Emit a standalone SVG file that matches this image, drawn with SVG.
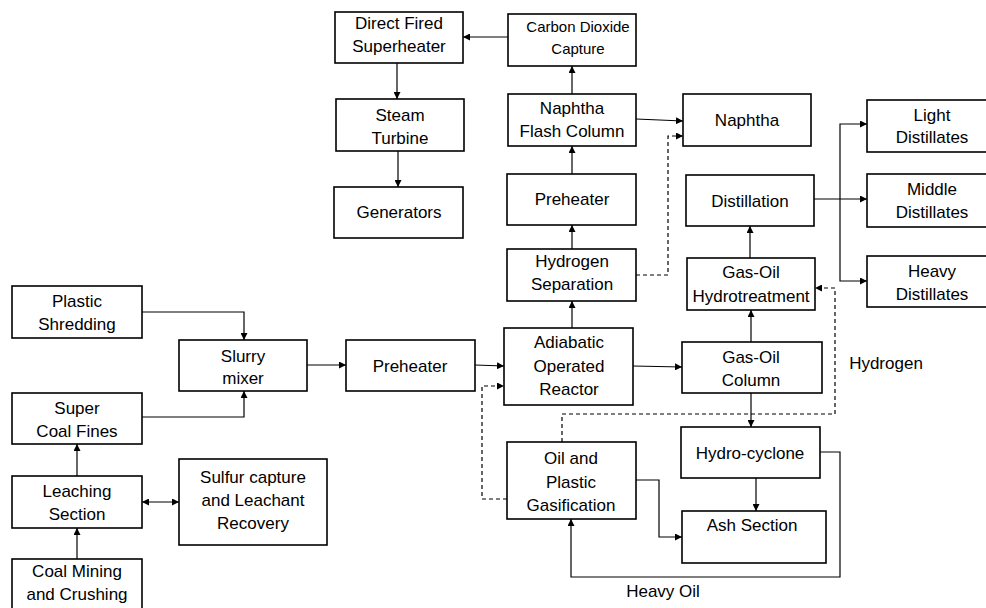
<svg xmlns="http://www.w3.org/2000/svg" width="986" height="608" viewBox="0 0 986 608">
<style>
.b{fill:#fff;stroke:#000;stroke-width:1.6}
.t{font-family:"Liberation Sans",Arial,sans-serif;font-size:17px;fill:#000;text-anchor:middle}
.s{font-size:15px}
.c{fill:none;stroke:#000;stroke-width:1.2}
.d{stroke-dasharray:4,3}
</style>
<defs>
<marker id="a" viewBox="0 0 8 8" refX="8" refY="4" markerWidth="7" markerHeight="7" markerUnits="userSpaceOnUse" orient="auto-start-reverse">
<path d="M0,0 L8,4 L0,8 z" fill="#000"/>
</marker>
</defs>
<rect width="986" height="608" fill="#fff"/>
<g id="connectors">
<path class="c" d="M508,37 H463" marker-end="url(#a)"/>
<path class="c" d="M397,63 V99" marker-end="url(#a)"/>
<path class="c" d="M398,151 V187" marker-end="url(#a)"/>
<path class="c" d="M572,94 V66" marker-end="url(#a)"/>
<path class="c" d="M636,119 L683,121" marker-end="url(#a)"/>
<path class="c d" d="M636,275 H668 V136 H683" marker-end="url(#a)"/>
<path class="c" d="M572,174 V146" marker-end="url(#a)"/>
<path class="c" d="M572,249 V225" marker-end="url(#a)"/>
<path class="c" d="M572,328 V301" marker-end="url(#a)"/>
<path class="c" d="M814,199 H867" marker-end="url(#a)"/>
<path class="c" d="M867,124 H840 V281 H867" marker-start="url(#a)" marker-end="url(#a)"/>
<path class="c" d="M750,258 V226" marker-end="url(#a)"/>
<path class="c" d="M751,342 V310" marker-end="url(#a)"/>
<path class="c" d="M751,393 V427" marker-end="url(#a)"/>
<path class="c d" d="M562,442 V414 H835 V288 H815" marker-end="url(#a)"/>
<path class="c d" d="M507,499 H482 V386 H504" marker-end="url(#a)"/>
<path class="c" d="M633,366 L682,367" marker-end="url(#a)"/>
<path class="c" d="M475,365 L504,366" marker-end="url(#a)"/>
<path class="c" d="M307,365 H346" marker-end="url(#a)"/>
<path class="c" d="M142,312 H244 V340" marker-end="url(#a)"/>
<path class="c" d="M142,417 H244 V391" marker-end="url(#a)"/>
<path class="c" d="M77,476 V444" marker-end="url(#a)"/>
<path class="c" d="M77,559 V528" marker-end="url(#a)"/>
<path class="c" d="M142,502 H179" marker-start="url(#a)" marker-end="url(#a)"/>
<path class="c" d="M636,480 H659 V537 H682" marker-end="url(#a)"/>
<path class="c" d="M756,478 V511" marker-end="url(#a)"/>
<path class="c" d="M820,452 H840 V577 H571 V519" marker-end="url(#a)"/>
</g>
<g id="superheater"><rect class="b" x="335" y="12" width="128" height="51"/><text class="t" x="399" y="29">Direct Fired</text><text class="t" x="399" y="52">Superheater</text></g>
<g id="co2"><rect class="b" x="508" y="14" width="128" height="52"/><text class="t s" x="578" y="32">Carbon Dioxide</text><text class="t s" x="578" y="54">Capture</text></g>
<g id="turbine"><rect class="b" x="336" y="99" width="128" height="52"/><text class="t" x="400" y="121">Steam</text><text class="t" x="400" y="144">Turbine</text></g>
<g id="generators"><rect class="b" x="334" y="187" width="129" height="51"/><text class="t" x="399" y="218">Generators</text></g>
<g id="naphthaflash"><rect class="b" x="508" y="94" width="128" height="52"/><text class="t" x="572" y="114">Naphtha</text><text class="t" x="572" y="137">Flash Column</text></g>
<g id="naphtha"><rect class="b" x="683" y="94" width="128" height="52"/><text class="t" x="747" y="126">Naphtha</text></g>
<g id="preheater2"><rect class="b" x="507" y="174" width="129" height="51"/><text class="t" x="572" y="205">Preheater</text></g>
<g id="h2sep"><rect class="b" x="507" y="249" width="129" height="52"/><text class="t" x="572" y="267">Hydrogen</text><text class="t" x="572" y="290">Separation</text></g>
<g id="distillation"><rect class="b" x="686" y="175" width="128" height="51"/><text class="t" x="750" y="207">Distillation</text></g>
<g id="hydrotreat"><rect class="b" x="687" y="258" width="128" height="52"/><text class="t" x="751" y="278">Gas-Oil</text><text class="t" x="751" y="302">Hydrotreatment</text></g>
<g id="light"><rect class="b" x="867" y="100" width="130" height="52"/><text class="t" x="932" y="121">Light</text><text class="t" x="932" y="143">Distillates</text></g>
<g id="middle"><rect class="b" x="867" y="174" width="130" height="53"/><text class="t" x="932" y="195">Middle</text><text class="t" x="932" y="218">Distillates</text></g>
<g id="heavy"><rect class="b" x="867" y="256" width="130" height="51"/><text class="t" x="932" y="277">Heavy</text><text class="t" x="932" y="300">Distillates</text></g>
<g id="reactor"><rect class="b" x="504" y="328" width="129" height="77"/><text class="t" x="569" y="348">Adiabatic</text><text class="t" x="569" y="372">Operated</text><text class="t" x="569" y="395">Reactor</text></g>
<g id="gasoilcol"><rect class="b" x="682" y="342" width="140" height="51"/><text class="t" x="751" y="363">Gas-Oil</text><text class="t" x="751" y="386">Column</text></g>
<g id="hydrocyclone"><rect class="b" x="681" y="427" width="139" height="51"/><text class="t" x="750" y="459">Hydro-cyclone</text></g>
<g id="gasification"><rect class="b" x="507" y="442" width="129" height="77"/><text class="t" x="571" y="464">Oil and</text><text class="t" x="571" y="488">Plastic</text><text class="t" x="571" y="511">Gasification</text></g>
<g id="ash"><rect class="b" x="682" y="511" width="144" height="52"/><text class="t" x="752" y="531">Ash Section</text></g>
<g id="plastic"><rect class="b" x="12" y="286" width="130" height="52"/><text class="t" x="77" y="307">Plastic</text><text class="t" x="77" y="330">Shredding</text></g>
<g id="slurry"><rect class="b" x="179" y="340" width="128" height="51"/><text class="t" x="243" y="362">Slurry</text><text class="t" x="243" y="384">mixer</text></g>
<g id="preheater1"><rect class="b" x="346" y="340" width="129" height="51"/><text class="t" x="410" y="372">Preheater</text></g>
<g id="coalfines"><rect class="b" x="12" y="393" width="130" height="51"/><text class="t" x="77" y="414">Super</text><text class="t" x="77" y="437">Coal Fines</text></g>
<g id="leaching"><rect class="b" x="12" y="476" width="130" height="52"/><text class="t" x="77" y="497">Leaching</text><text class="t" x="77" y="520">Section</text></g>
<g id="sulfur"><rect class="b" x="179" y="459" width="148" height="86"/><text class="t" x="253" y="483">Sulfur capture</text><text class="t" x="253" y="506">and Leachant</text><text class="t" x="253" y="529">Recovery</text></g>
<g id="coalmining"><rect class="b" x="12" y="559" width="130" height="60"/><text class="t" x="77" y="577">Coal Mining</text><text class="t" x="77" y="600">and Crushing</text></g>
<g id="labels"><text class="t" x="886" y="369">Hydrogen</text><text class="t" x="663" y="597">Heavy Oil</text></g>
</svg>
